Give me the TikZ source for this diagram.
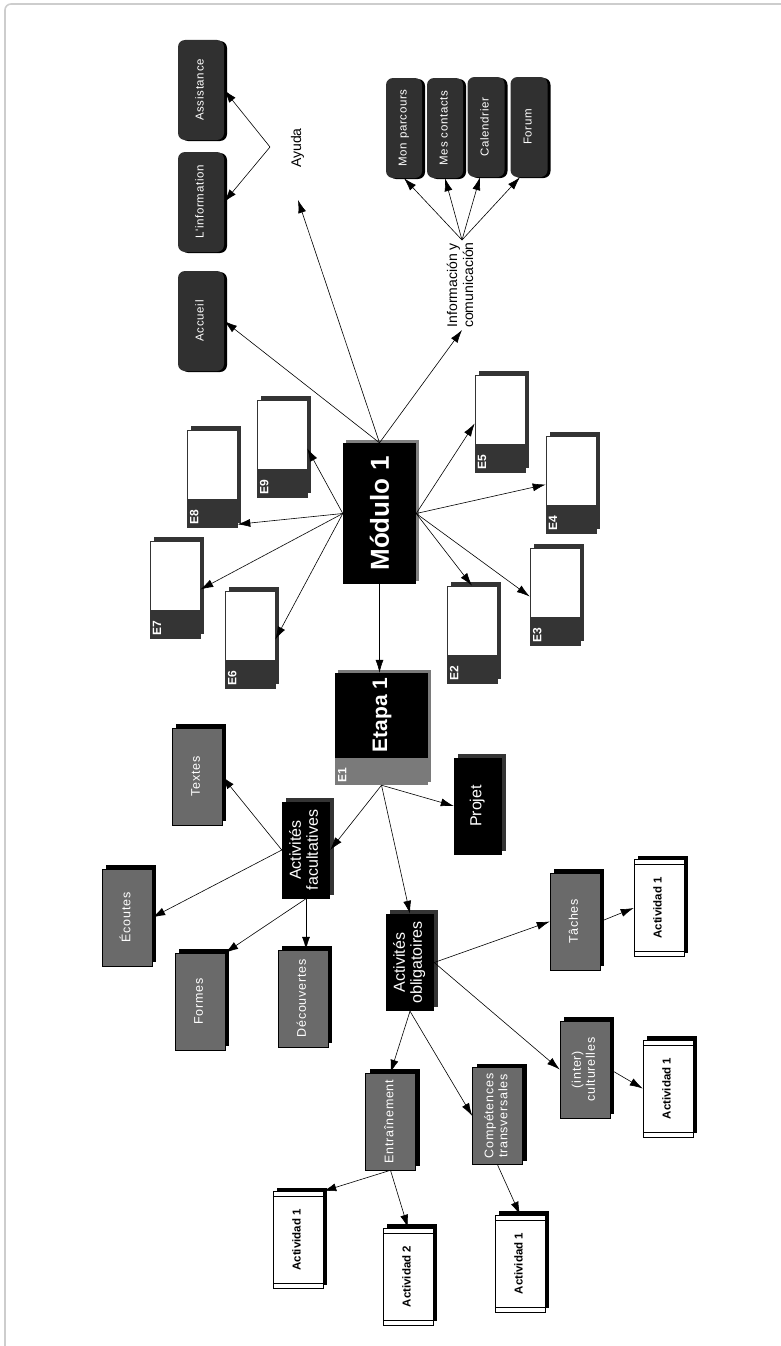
\documentclass[tikz,border=0pt]{standalone}
\usepackage{fontspec}
\setmainfont{Liberation Sans}
\newfontfamily\spacedsf{Liberation Sans}[LetterSpace=6]
\usepackage{graphicx}
\usetikzlibrary{arrows.meta,shadows}
\definecolor{btngrey}{RGB}{48,48,48}
\definecolor{edark}{RGB}{52,52,52}
\definecolor{boxgrey}{RGB}{106,106,106}
\definecolor{etgrey}{RGB}{122,122,122}
\definecolor{framegrey}{RGB}{205,205,205}
\newcommand{\vtext}[1]{\rotatebox{90}{\begin{tabular}{@{}c@{}}#1\end{tabular}}}

\tikzset{
  arr/.style={-{Latex[length=13pt,width=8pt]}, line width=0.6pt},
  darkbtn/.style={fill=btngrey, rounded corners=7pt, minimum width=46pt, minimum height=100pt, inner sep=0pt, text=white, font=\spacedsf\fontsize{11.5}{13}\selectfont, drop shadow={shadow xshift=3pt, shadow yshift=-1pt, fill=black, opacity=1}},
  modbox/.style={fill=black, minimum width=73pt, minimum height=141pt, inner sep=0pt, text=white, font=\bfseries\fontsize{26}{26}\selectfont, drop shadow={shadow xshift=3pt, shadow yshift=3pt, fill=gray, opacity=1}},
  ebox/.style={draw=edark, fill=white, line width=0.6pt, minimum width=50pt, minimum height=97pt, inner sep=0pt, path picture={\fill[edark] (path picture bounding box.south west) rectangle ([yshift=28pt]path picture bounding box.south east);}, drop shadow={shadow xshift=4pt, shadow yshift=4pt, fill=edark, opacity=1}},
  elabel/.style={anchor=south west, inner sep=3pt, text=white, font=\bfseries\fontsize{12}{12}\selectfont},
  etapabox/.style={fill=etgrey, minimum width=93pt, minimum height=112pt, inner sep=0pt, path picture={\fill[black] (path picture bounding box.north west) rectangle ([yshift=27pt]path picture bounding box.south east);}, drop shadow={shadow xshift=3pt, shadow yshift=3pt, fill=etgrey, opacity=1}},
  greybox/.style={fill=boxgrey, draw=black, line width=0.5pt, minimum width=50pt, minimum height=97pt, inner sep=0pt, text=white, font=\spacedsf\fontsize{12.5}{14}\selectfont, drop shadow={shadow xshift=4pt, shadow yshift=4pt, fill=black, opacity=1}},
  blackbox/.style={fill=black, minimum width=48pt, minimum height=97pt, inner sep=0pt, text=white, font=\fontsize{16}{17}\selectfont, drop shadow={shadow xshift=4pt, shadow yshift=4pt, fill=edark, opacity=1}},
  actbox/.style={draw=black, fill=white, line width=0.6pt, minimum width=50pt, minimum height=97pt, inner sep=0pt, font=\bfseries\fontsize{11.5}{13}\selectfont, path picture={\draw[line width=0.6pt] ([yshift=-5pt]path picture bounding box.north west) -- ([yshift=-5pt]path picture bounding box.north east) ([yshift=5pt]path picture bounding box.south west) -- ([yshift=5pt]path picture bounding box.south east);}, drop shadow={shadow xshift=4pt, shadow yshift=4pt, fill=black, opacity=1}},
  plaintxt/.style={inner sep=2pt, font=\fontsize{14}{16}\selectfont}
}

\begin{document}
\begin{tikzpicture}[x=1pt,y=-1pt]
\useasboundingbox (0,0) rectangle (781,1346);
\draw [framegrey, line width=1.6pt, rounded corners=6pt] (5,1346)--(5,4)--(781,4);

% aide
\node[darkbtn] (assist) at (201,90) {\vtext{Assistance}};
\node[darkbtn] (linfo) at (201,202) {\vtext{L'information}};
\node[darkbtn] (accueil) at (201,321) {\vtext{Accueil}};
\node[plaintxt] (ayuda) at (298,148) {\vtext{Ayuda}};
\coordinate (ayudafork) at (270,147);
\coordinate (ayudaend) at (298,200);

% information et communication
\node[darkbtn, minimum width=36pt] (parcours) at (404,128) {\vtext{Mon parcours}};
\node[darkbtn, minimum width=36pt] (contacts) at (445,128) {\vtext{Mes contacts}};
\node[darkbtn, minimum width=37pt] (calend) at (486,127) {\vtext{Calendrier}};
\node[darkbtn, minimum width=37pt] (forum) at (529,127) {\vtext{Forum}};
\node[plaintxt] (infotxt) at (462,285) {\vtext{Información y\\comunicación}};

% module
\node[modbox] (mod) at (379.5,513.5) {\rotatebox{90}{Módulo 1}};
\node[ebox, label={[elabel]south west:\rotatebox{90}{E9}}] (e9) at (282,448.5) {};
\node[ebox, label={[elabel]south west:\rotatebox{90}{E8}}] (e8) at (212,478.5) {};
\node[ebox, label={[elabel]south west:\rotatebox{90}{E7}}] (e7) at (175,589.5) {};
\node[ebox, label={[elabel]south west:\rotatebox{90}{E6}}] (e6) at (250,639.5) {};
\node[ebox, label={[elabel]south west:\rotatebox{90}{E5}}] (e5) at (500,423.5) {};
\node[ebox, label={[elabel]south west:\rotatebox{90}{E4}}] (e4) at (571,484.5) {};
\node[ebox, label={[elabel]south west:\rotatebox{90}{E3}}] (e3) at (555,596.5) {};
\node[ebox, label={[elabel]south west:\rotatebox{90}{E2}}] (e2) at (472,634.5) {};

% etape
\node[etapabox, label={[elabel]south west:\rotatebox{90}{E1}}] (etapa) at (381.5,729) {};
\node[text=white, font=\bfseries\fontsize{21}{21}\selectfont, inner sep=0pt] (etapatxt) at (382,715) {\rotatebox{90}{Etapa 1}};
\node[blackbox] (projet) at (478,806) {\vtext{Projet}};
\node[blackbox] (actfac) at (306,850) {\vtext{Activités\\facultatives}};
\node[blackbox] (actobl) at (410,962.5) {\vtext{Activités\\obligatoires}};

\node[greybox] (textes) at (197,776.5) {\vtext{Textes}};
\node[greybox] (ecoutes) at (127,917.5) {\vtext{Écoutes}};
\node[greybox] (formes) at (200,1001.5) {\vtext{Formes}};
\node[greybox] (decouv) at (303,998.5) {\vtext{Découvertes}};

\node[greybox] (taches) at (575,921.5) {\vtext{Tâches}};
\node[greybox] (interc) at (585,1069.5) {\vtext{(inter)\\culturelles}};
\node[greybox] (entr) at (390.5,1121.5) {\vtext{Entraînement}};
\node[greybox] (comp) at (497.5,1116) {\vtext{Compétences\\transversales}};

\node[actbox] (actt) at (659,908) {\vtext{Actividad 1}};
\node[actbox] (acti) at (668,1088.5) {\vtext{Actividad 1}};
\node[actbox] (acte) at (298,1240) {\vtext{Actividad 1}};
\node[actbox] (acteb) at (408,1276.5) {\vtext{Actividad 2}};
\node[actbox] (actc) at (520,1263.5) {\vtext{Actividad 1}};

% fleches
\draw [arr] (mod.north)--(accueil.east);
\draw [arr] (mod.north)--(ayudaend);
\draw [arr] (mod.north)--(infotxt.south);
\draw [arr] (ayudafork)--(assist.east);
\draw [arr] (ayudafork)--(linfo.east);
\draw [arr] (infotxt.north)--(parcours.south);
\draw [arr] (infotxt.north)--(contacts.south);
\draw [arr] (infotxt.north)--([xshift=-6pt]calend.south);
\draw [arr] (infotxt.north)--([xshift=-9pt]forum.south);
\draw [arr] (mod.west)--(e9.east);
\draw [arr] (mod.west)--([yshift=3pt]e8.south east);
\foreach \e in {e7,e6} {\draw [arr] (mod.west)--(\e.east);}
\foreach \e in {e5,e4,e3} {\draw [arr] (mod.east)--(\e.west);}
\draw [arr] (mod.east)--(e2.north);
\draw [arr] (mod.south)--(mod.south |- etapa.north);
\draw [arr] (etapa.south)--(actfac.east);
\draw [arr] (etapa.south)--(projet.west);
\draw [arr] (etapa.south)--(actobl.north);
\draw [arr] (actfac.west)--(textes.east);
\draw [arr] (actfac.west)--(ecoutes.east);
\draw [arr] (actfac.south)--(formes.north east);
\draw [arr] (actfac.south)--(actfac.south |- decouv.north);
\draw [arr] (actobl.east)--(taches.west);
\draw [arr] (actobl.east)--(interc.west);
\draw [arr] (actobl.south)--(entr.north);
\draw [arr] (actobl.south)--(comp.west);
\draw [arr] (taches.east)--(actt.west);
\draw [arr] (interc.east)--(acti.west);
\draw [arr] (entr.south)--(acte.north east);
\draw [arr] (entr.south)--(acteb.north);
\draw [arr] (comp.south)--(actc.north);
\end{tikzpicture}
\end{document}
